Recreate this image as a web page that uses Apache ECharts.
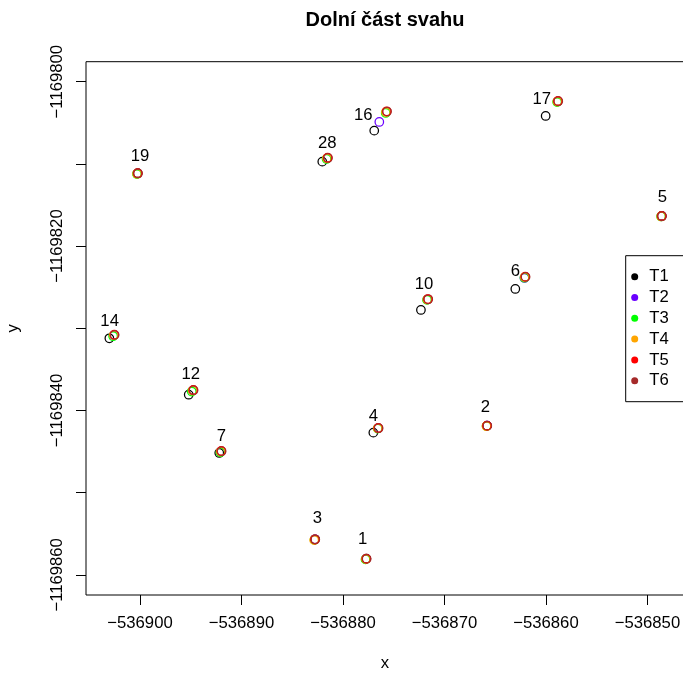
<!DOCTYPE html>
<html><head><meta charset="utf-8">
<script src="https://cdn.jsdelivr.net/npm/echarts@6/dist/echarts.min.js"></script>
<style>html,body{margin:0;padding:0;background:#fff}#c{width:683px;height:676px}</style>
</head><body><div id="c"></div>
<script>
// Point identifiers (labels drawn next to each point)
const pointIds = ['1','2','3','4','5','6','7','10','12','14','16','17','19','28'];

// T1 .. T6 coordinates (x, y), one entry per point id
const t1X = [-536877.70,-536865.81,-536882.76,-536877.01,-536848.60,-536863.02,-536892.19,-536872.32,-536895.20,-536903.02,-536876.92,-536860.03,-536900.23,-536882.04];
const t1Y = [-1169858.03,-1169841.85,-1169855.67,-1169842.70,-1169816.34,-1169825.22,-1169845.17,-1169827.77,-1169838.08,-1169831.22,-1169805.96,-1169804.17,-1169811.14,-1169809.73];

const t2X = [-536877.75,-536865.81,-536882.76,-536876.55,-536848.62,-536862.12,-536892.04,-536871.68,-536894.81,-536902.58,-536876.42,-536858.85,-536900.26,-536881.55];
const t2Y = [-1169858.08,-1169841.85,-1169855.67,-1169842.16,-1169816.38,-1169823.88,-1169845.00,-1169826.50,-1169837.58,-1169830.85,-1169804.90,-1169802.42,-1169811.18,-1169809.32];

const t3X = [-536877.78,-536865.85,-536882.80,-536876.58,-536848.66,-536862.12,-536892.08,-536871.72,-536894.90,-536902.65,-536875.79,-536858.90,-536900.30,-536881.62];
const t3Y = [-1169858.12,-1169841.90,-1169855.72,-1169842.20,-1169816.40,-1169823.85,-1169845.08,-1169826.55,-1169837.70,-1169830.97,-1169803.81,-1169802.48,-1169811.24,-1169809.40];

const t4X = [-536877.74,-536865.86,-536882.84,-536876.57,-536848.64,-536862.09,-536892.04,-536871.68,-536894.81,-536902.58,-536875.76,-536858.87,-536900.28,-536881.57];
const t4Y = [-1169858.08,-1169841.92,-1169855.78,-1169842.18,-1169816.40,-1169823.78,-1169845.00,-1169826.50,-1169837.58,-1169830.84,-1169803.69,-1169802.42,-1169811.20,-1169809.32];

const t5X = [-536877.70,-536865.81,-536882.76,-536876.52,-536848.60,-536862.04,-536891.99,-536871.63,-536894.75,-536902.53,-536875.69,-536858.82,-536900.23,-536881.51];
const t5Y = [-1169858.03,-1169841.85,-1169855.67,-1169842.13,-1169816.34,-1169823.72,-1169844.93,-1169826.44,-1169837.51,-1169830.78,-1169803.60,-1169802.35,-1169811.14,-1169809.25];

const t6X = [-536877.67,-536865.78,-536882.73,-536876.49,-536848.57,-536862.01,-536891.96,-536871.60,-536894.72,-536902.50,-536875.66,-536858.79,-536900.20,-536881.48];
const t6Y = [-1169858.06,-1169841.88,-1169855.70,-1169842.16,-1169816.37,-1169823.75,-1169844.96,-1169826.47,-1169837.54,-1169830.81,-1169803.63,-1169802.38,-1169811.17,-1169809.28];

// Positions of the point-id text labels
const labelX = [-536878.06,-536865.98,-536882.53,-536877.01,-536848.54,-536863.02,-536891.99,-536872.02,-536895.00,-536902.99,-536878.00,-536860.42,-536900.00,-536881.55];
const labelY = [-1169855.67,-1169839.61,-1169853.16,-1169840.67,-1169814.11,-1169823.11,-1169843.10,-1169824.61,-1169835.64,-1169829.15,-1169804.14,-1169802.10,-1169809.12,-1169807.49];

const seriesNames = ['T1','T2','T3','T4','T5','T6'];
const seriesColors = ['#000000','#6A00FF','#00FF00','#FFA500','#FF0000','#A52A2A'];

// Axis ticks and labels
const xTicks = [-536900,-536890,-536880,-536870,-536860,-536850];
const yTicks = [-1169860,-1169850,-1169840,-1169830,-1169820,-1169810,-1169800];
const yTickLabels = [-1169860,-1169840,-1169820,-1169800];

const allX = [t1X,t2X,t3X,t4X,t5X,t6X];
const allY = [t1Y,t2Y,t3Y,t4Y,t5Y,t6Y];

const FONT = '"Liberation Sans", Arial, Helvetica, sans-serif';
const FS = 16.7;
const fmt = v => String(v).replace('-', '\u2212');

const series = seriesNames.map((name, s) => ({
  name: name,
  type: 'scatter',
  symbol: 'circle',
  symbolSize: 8.5,
  itemStyle: { color: 'rgba(0,0,0,0)', borderColor: seriesColors[s], borderWidth: 1.25, opacity: 1 },
  emphasis: { disabled: true },
  data: pointIds.map((id, i) => [allX[s][i], allY[s][i]]),
  z: 2 + s
}));

series.push({
  name: 'ids',
  type: 'scatter',
  symbolSize: 1,
  silent: true,
  itemStyle: { color: 'rgba(0,0,0,0)', opacity: 1 },
  label: {
    show: true, position: 'inside', formatter: p => p.name,
    fontSize: FS, color: '#000', opacity: 1, fontFamily: FONT
  },
  data: pointIds.map((id, i) => ({ name: id, value: [labelX[i], labelY[i]] })),
  z: 10
});

const chart = echarts.init(document.getElementById('c'), null, { renderer: 'canvas' });
chart.setOption({
  animation: false,
  backgroundColor: '#ffffff',
  textStyle: { fontFamily: FONT },
  title: {
    text: 'Dolní část svahu',
    left: 380, top: 5, textAlign: 'center',
    textStyle: { fontSize: 20, fontWeight: 'bold', color: '#000', fontFamily: FONT }
  },
  grid: {
    left: 86, top: 61.7, right: -1, bottom: 81,
    containLabel: false, outerBoundsMode: 'none',
    show: true, borderColor: '#000', borderWidth: 1, backgroundColor: 'rgba(0,0,0,0)'
  },
  xAxis: {
    type: 'value',
    min: -536905.32, max: -536846.4,
    name: 'x', nameLocation: 'middle', nameGap: 60,
    nameTextStyle: { fontSize: FS, color: '#000', fontFamily: FONT },
    axisLine: { show: false },
    splitLine: { show: false },
    axisTick: { show: true, length: 10, customValues: xTicks, lineStyle: { color: '#000', width: 1 } },
    axisLabel: { customValues: xTicks, formatter: fmt, fontSize: FS, color: '#000', margin: 20, fontFamily: FONT }
  },
  yAxis: {
    type: 'value',
    min: -1169862.45, max: -1169797.57,
    name: 'y', nameLocation: 'middle', nameGap: 64,
    nameTextStyle: { fontSize: FS, color: '#000', fontFamily: FONT },
    axisLine: { show: false },
    splitLine: { show: false },
    axisTick: { show: true, length: 10, customValues: yTicks, lineStyle: { color: '#000', width: 1 } },
    axisLabel: { customValues: yTickLabels, formatter: fmt, rotate: 90, fontSize: FS, color: '#000', margin: 20, fontFamily: FONT }
  },
  legend: {
    orient: 'vertical',
    left: 625.7, top: 255.7,
    padding: [10.6, 30, 10.6, 5.5],
    itemGap: 0,
    itemWidth: 19, itemHeight: 7,
    icon: 'circle',
    selectedMode: false,
    borderColor: '#000', borderWidth: 1, borderRadius: 0,
    backgroundColor: '#ffffff',
    textStyle: { fontSize: FS, color: '#000', lineHeight: 20.8, fontFamily: FONT },
    data: seriesNames.map((n, s) => ({ name: n, itemStyle: { color: seriesColors[s], borderWidth: 0, opacity: 1 } }))
  },
  series: series
});
</script>
</body></html>
